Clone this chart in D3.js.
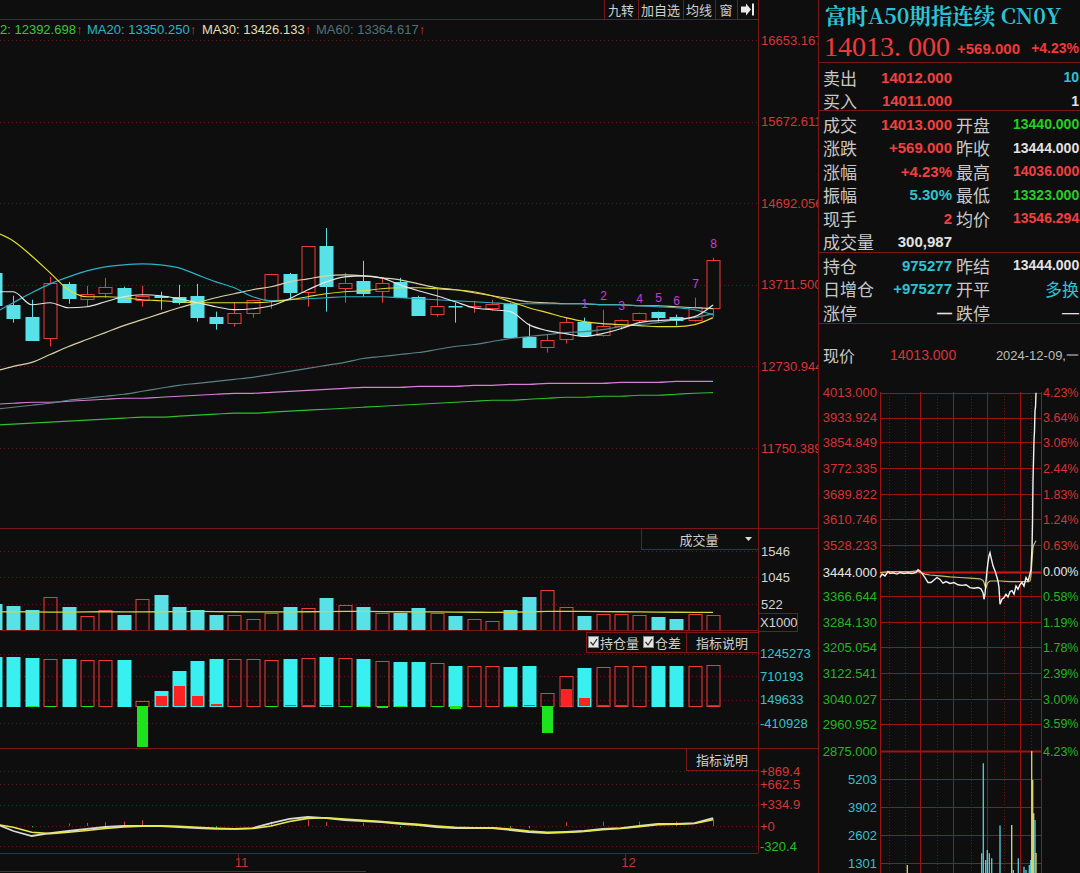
<!DOCTYPE html>
<html><head><meta charset="utf-8">
<script src="https://cdn.jsdelivr.net/npm/d3@7/dist/d3.min.js"></script>
<style>
html,body{margin:0;padding:0;background:#0e0e0e;overflow:hidden;}
svg{display:block;}
</style></head><body>
<svg id="chart" width="1080" height="873"></svg>
<script>
// ================= DATA =================
const dates=["10-15","10-16","10-17","10-18","10-21","10-22","10-23","10-24","10-25","10-28",
"10-29","10-30","10-31","11-01","11-04","11-05","11-06","11-07","11-08","11-11",
"11-12","11-13","11-14","11-15","11-18","11-19","11-20","11-21","11-22","11-25",
"11-26","11-27","11-28","11-29","12-02","12-03","12-04","12-05","12-06","12-09"];
const openP=[13855,13472,13329,13078,13723,13544,13616,13676,13532,13580,13568,13580,13329,13257,13377,13532,13843,13628,14178,13676,13759,13640,13747,13568,13365,13454,13448,13436,13484,13090,12970,13066,13269,13113,13221,13293,13389,13329,13293,13440];
const highP=[13900,13580,13532,13807,13747,13700,13795,13688,13700,13628,13711,13723,13389,13496,13532,13843,13855,14178,14393,13855,13999,13783,13795,13580,13676,13496,13520,13532,13496,13245,13113,13317,13317,13412,13293,13377,13389,13353,13556,14036];
const lowP=[13460,13257,13054,12970,13484,13448,13556,13496,13448,13412,13472,13269,13173,13209,13317,13424,13532,13448,13389,13496,13568,13496,13556,13353,13329,13257,13377,13400,13078,12970,12898,13006,13090,13090,13173,13257,13269,13221,13269,13323];
const closeP=[13472,13317,13054,13735,13556,13604,13688,13508,13580,13568,13508,13329,13257,13377,13532,13843,13628,14178,13700,13735,13616,13735,13568,13353,13460,13448,13454,13484,13090,12970,13054,13269,13113,13221,13293,13377,13329,13293,13444,14013];
const ma5=[13628,13628,13472,13496,13436,13448,13508,13568,13592,13580,13544,13496,13448,13412,13424,13460,13544,13652,13747,13807,13819,13795,13711,13640,13580,13508,13436,13412,13389,13233,13161,13125,13090,13125,13185,13257,13281,13293,13329,13470];
const ma10=[14345,14238,14058,13855,13652,13568,13568,13556,13532,13520,13508,13496,13496,13496,13496,13508,13532,13568,13604,13628,13640,13664,13676,13676,13664,13652,13628,13580,13508,13436,13377,13317,13269,13245,13233,13221,13209,13209,13233,13317];
const ma20=[13377,13496,13616,13723,13807,13879,13927,13951,13963,13951,13915,13831,13747,13676,13568,13520,13532,13544,13556,13568,13568,13568,13556,13544,13532,13520,13508,13496,13484,13484,13484,13484,13484,13472,13472,13460,13448,13436,13412,13350];
const ma30=[12671,12731,12779,12874,12970,13054,13137,13221,13293,13365,13436,13496,13556,13604,13652,13688,13747,13783,13819,13831,13819,13795,13771,13723,13676,13652,13616,13580,13544,13508,13496,13484,13484,13472,13472,13460,13460,13448,13436,13426];
const ma60=[12216,12240,12264,12288,12324,12348,12372,12396,12432,12468,12504,12527,12551,12575,12599,12635,12671,12707,12743,12779,12826,12850,12874,12898,12934,12970,12994,13030,13066,13090,13113,13137,13149,13173,13209,13233,13257,13293,13317,13365];
const ma120=[12276,12288,12300,12300,12312,12324,12336,12348,12348,12360,12372,12384,12396,12408,12408,12420,12432,12444,12456,12468,12480,12480,12480,12492,12492,12492,12504,12504,12515,12515,12527,12527,12527,12527,12539,12539,12539,12551,12551,12551];
const ma250=[12025,12037,12049,12061,12073,12085,12097,12109,12121,12121,12133,12145,12157,12169,12169,12181,12193,12205,12216,12228,12240,12252,12264,12276,12288,12300,12312,12324,12324,12336,12348,12360,12360,12372,12372,12384,12384,12396,12408,12416];
const tdCount=[0,0,0,0,0,0,0,0,0,0,0,0,0,0,0,0,0,0,0,0,0,0,0,0,0,0,0,0,0,0,0,0,1,2,3,4,5,6,7,8];
const maLegend=[{name:"2",value:"12392.698"},{name:"MA20",value:"13350.250"},{name:"MA30",value:"13426.133"},{name:"MA60",value:"13364.617"}];

const volume=[522,483,406,657,464,290,406,309,619,696,464,406,309,309,232,348,464,445,638,503,464,348,348,445,348,290,232,193,406,657,793,464,290,329,329,309,271,232,329,301];
const volMA=[370,372,368,365,365,368,372,370,368,372,375,378,375,372,368,368,370,372,375,380,378,375,372,370,368,365,362,360,362,370,378,380,378,375,372,368,365,362,360,358];
const openInt=[1168797,1168797,1144944,1121091,1121091,1097238,1097238,1097238,119265,357795,834855,1073385,1121091,1121091,1121091,1097238,1121091,1144944,1168797,1144944,1121091,1073385,1049532,1049532,1025679,954120,954120,954120,930267,954120,310089,715590,906414,930267,954120,954120,954120,954120,954120,975277];
const oiDiff=[0,0,-23853,-23853,0,-23853,0,0,-977973,238530,477060,238530,47706,0,0,-23853,23853,23853,23853,-23853,-23853,-47706,-23853,0,-23853,-71559,0,0,-23853,23853,-644031,405501,190824,23853,23853,0,0,0,0,21157];
const oscWhite=[40,-79,-158,-111,-79,-47,-16,0,0,0,-16,-32,-47,-47,-32,47,111,142,126,95,79,63,32,16,-16,-32,-32,-32,-63,-95,-111,-95,-79,-47,-32,0,32,32,47,126];
const oscYellow=[30,-20,-100,-120,-100,-70,-40,-15,-5,0,-5,-20,-35,-45,-40,0,70,120,130,110,90,70,45,25,0,-20,-30,-30,-50,-80,-100,-100,-85,-60,-40,-10,20,30,40,100];
const oscHist=[0,0,-20,0,40,50,60,70,90,0,0,0,-30,0,0,70,0,100,60,0,50,0,-25,0,0,0,0,0,-30,-35,0,60,0,70,0,70,0,70,0,120];

const priceTicks=[16653.167,15672.611,14692.056,13711.500,12730.944,11750.389];
const priceTickLabels=["16653.167","15672.611","14692.056","13711.500","12730.944","11750.389"];
const volTicks=[1546,1045,522];
const oiTicks=[1245273,710193,149633,-410928];
const oscTicks=[869.4,662.5,334.9,0,-320.4];
const oscTickLabels=["+869.4","+662.5","+334.9","+0","-320.4"];
const monthTicks=[{date:"11-01",label:"11"},{date:"12-02",label:"12"}];
const headerButtons=["九转","加自选","均线","窗"];

// right quote panel
const quoteTitle="富时A50期指连续 CN0Y";
const lastPrice="14013. 000", lastChange="+569.000", lastPct="+4.23%";
const quoteLeft=[
 {label:"卖出",value:"14012.000",kind:"up"},
 {label:"买入",value:"14011.000",kind:"up"},
 {label:"成交",value:"14013.000",kind:"up"},
 {label:"涨跌",value:"+569.000",kind:"up"},
 {label:"涨幅",value:"+4.23%",kind:"up"},
 {label:"振幅",value:"5.30%",kind:"info"},
 {label:"现手",value:"2",kind:"up"},
 {label:"成交量",value:"300,987",kind:"plain"},
 {label:"持仓",value:"975277",kind:"info"},
 {label:"日增仓",value:"+975277",kind:"info"},
 {label:"涨停",value:"—",kind:"plain"}];
const quoteRight=[
 {label:"",value:"10",kind:"info"},
 {label:"",value:"1",kind:"plain"},
 {label:"开盘",value:"13440.000",kind:"down"},
 {label:"昨收",value:"13444.000",kind:"plain"},
 {label:"最高",value:"14036.000",kind:"up"},
 {label:"最低",value:"13323.000",kind:"down"},
 {label:"均价",value:"13546.294",kind:"up"},
 {label:"",value:"",kind:"plain"},
 {label:"昨结",value:"13444.000",kind:"plain"},
 {label:"开平",value:"多换",kind:"info"},
 {label:"跌停",value:"—",kind:"plain"}];
const nowRow={label:"现价",value:"14013.000",date:"2024-12-09,一"};

// intraday
const prevClose=13444;
const intraTicks=[14013.000,13933.924,13854.849,13772.335,13689.822,13610.746,13528.233,13444.000,13366.644,13284.130,13205.054,13122.541,13040.027,12960.952,12875.000];
const intraTickLabels=["4013.000","3933.924","3854.849","3772.335","3689.822","3610.746","3528.233","3444.000","3366.644","3284.130","3205.054","3122.541","3040.027","2960.952","2875.000"];
const intraPctLabels=["4.23%","3.64%","3.06%","2.44%","1.83%","1.24%","0.63%","0.00%","0.58%","1.19%","1.78%","2.39%","3.00%","3.59%","4.23%"];
const intraTime=[0,2,5,8,10,13,17,20,24,28,32,36,38,40,42,45,48,51,54,57,60,63,66,70,74,78,82,86,90,94,98,101,103,104,105,106,107,108,109,110,111,113,115,117,118,119,120,122,124,126,128,130,132,134,136,138,140,142,144,146,148,150,151,152,152.5,153,153.5,154,154.5,155,155.5,156];
const intraPrice=[13426,13437,13431,13445,13439,13441,13437,13442,13439,13441,13439,13442,13451,13447,13439,13426,13410,13410,13418,13426,13420,13408,13413,13407,13410,13403,13401,13403,13394,13392,13394,13390,13378,13357,13373,13415,13447,13474,13495,13505,13490,13463,13447,13426,13415,13394,13341,13357,13362,13373,13364,13381,13384,13373,13399,13389,13403,13410,13399,13426,13415,13437,13452,13521,13596,13733,13797,13861,13892,13956,13967,14013];
const avgTime=[0,10,20,30,38,40,45,50,60,70,80,90,100,103,104,105,106,107,108,110,115,120,130,140,148,150,151,152,153,154,155,156];
const avgPrice=[13442,13445,13445,13445,13447,13442,13437,13434,13431,13428,13426,13424,13422,13417,13410,13399,13394,13403,13410,13415,13415,13415,13413,13413,13413,13415,13431,13479,13521,13532,13537,13543];
const intraVolTicks=[5203,3902,2602,1301];
const intraVolTime=[27.3,101.7,103.3,105.7,107.3,109.3,111.7,120,131.7,133.3,138.3,144,146,149.3,150.7,151.7,152.7,153.7,155,156];
const intraVol=[1209,1753,5937,1441,1907,1753,1519,3038,3069,977,1519,1132,977,1209,1441,6504,5162,3612,3302,1767];
const intraVolDir=["u","d","d","d","d","d","d","d","u","d","d","d","d","d","d","u","u","u","d","u"];
const intraGridSolid=[40,73,107,140];
const intraGridDotted=[9,25,57,91,124,151];

// ================= RENDER =================
const BG="#0e0e0e", RED="#ec3b3b", CYAN="#58e2e8", CYAN2="#38f0f0", GREEN="#1ee21e",
      LINE="#7a1717", GRID="#5e1c1c", TXT="#cfcfcf", AXRED="#d63636";
const NUM="Liberation Sans, Arial, sans-serif", CJK="Noto Sans CJK SC, sans-serif";
const svg=d3.select("#chart");
svg.append("rect").attr("width",1080).attr("height",873).attr("fill",BG);
const defs=svg.append("defs");
function clip(id,x0,y0,w,h){defs.append("clipPath").attr("id",id).append("rect").attr("x",x0).attr("y",y0).attr("width",w).attr("height",h);}
clip("cMain",0,20,758,510);clip("cVol",0,530,758,101);clip("cOI",0,631,758,117);clip("cOsc",0,748,758,105);
clip("cAxis",758,0,60,873);

const n=dates.length;
const x=d3.scaleLinear().domain([0,n-1]).range([-5.1,713]);
const cx=i=>Math.round(x(i))+0.5;
const yP=d3.scaleLinear().domain([priceTicks[5],priceTicks[0]]).range([448,40]);
const yV=d3.scaleLinear().domain([0,volTicks[0]]).range([631,551]);
const yOI=d3.scaleLinear().domain([0,oiTicks[0]]).range([706,653.8]);
const yO=d3.scaleLinear().domain([0,oscTicks[0]]).range([826,771]);
const bars=dates.map((d,i)=>({i,d,o:openP[i],h:highP[i],l:lowP[i],c:closeP[i],up:closeP[i]>=openP[i]}));
const plainFmt=d=>String(d);

function hgrid(g,ticks,scale,x1,x2,color,dash){
  g.append("g").selectAll("line").data(ticks).join("line")
   .attr("x1",x1).attr("x2",x2).attr("y1",d=>Math.round(scale(d))+.5).attr("y2",d=>Math.round(scale(d))+.5)
   .attr("stroke",color).attr("stroke-dasharray",dash||null);
}
function styleAxis(g,colorFn,size,font){
  g.select(".domain").remove();
  g.selectAll("text").attr("fill",colorFn).attr("font-size",size).attr("font-family",font||NUM);
}

// ---- main price panel ----
const gMain=svg.append("g").attr("clip-path","url(#cMain)");
hgrid(gMain,priceTicks,yP,0,758,GRID,"1,3");
const gC=gMain.append("g");
gC.selectAll("line").data(bars).join("line")
 .attr("x1",b=>cx(b.i)).attr("x2",b=>cx(b.i)).attr("y1",b=>yP(b.h)).attr("y2",b=>yP(b.l))
 .attr("stroke",b=>b.up?RED:CYAN);
gC.selectAll("rect").data(bars).join("rect")
 .attr("x",b=>cx(b.i)-6.5).attr("width",13)
 .attr("y",b=>Math.round(Math.min(yP(b.o),yP(b.c)))+.5)
 .attr("height",b=>Math.max(0.5,Math.round(Math.abs(yP(b.o)-yP(b.c)))))
 .attr("fill",b=>b.up?BG:CYAN).attr("stroke",b=>b.up?RED:CYAN);
const maSeries=[[ma250,"#2fc02f"],[ma120,"#d77ed7"],[ma60,"#5d8086"],[ma30,"#d9d2a6"],[ma20,"#27b3c6"],[ma10,"#e4dc2c"],[ma5,"#e6e6e6"]];
const line=d3.line().x((d,i)=>x(i)).y(d=>yP(d)).curve(d3.curveMonotoneX);
maSeries.forEach(([s,c])=>gMain.append("path").attr("d",line(s)).attr("fill","none").attr("stroke",c).attr("stroke-width",1.2));
gMain.append("g").selectAll("text").data(bars.filter(b=>tdCount[b.i]>0)).join("text")
 .attr("x",b=>cx(b.i)).attr("y",b=>yP(b.h)-14).attr("text-anchor","middle").attr("dominant-baseline","central")
 .attr("fill","#c43fd6").attr("font-size",12).attr("font-family",NUM).text(b=>tdCount[b.i]);

// MA legend
const legColors=["#3cc83c","#29b5c9","#e6dfb4","#4f7076"];
const legX=[0,87,202,316];
maLegend.forEach((m,k)=>{
  const t=svg.append("text").attr("x",legX[k]).attr("y",29).attr("dominant-baseline","central")
    .attr("font-size",13).attr("font-family",NUM);
  t.append("tspan").attr("fill",legColors[k]).text(m.name+": "+m.value);
  t.append("tspan").attr("fill","#d03a2a").text("↑");
});

// header buttons
const btnEdges=[604,638,683,715,737,758];
headerButtons.forEach((b,k)=>{
  svg.append("text").attr("x",(btnEdges[k]+btnEdges[k+1])/2).attr("y",9.5).attr("text-anchor","middle")
   .attr("dominant-baseline","central").attr("fill",TXT).attr("font-size",13).attr("font-family",CJK).text(b);
});
svg.append("g").selectAll("line").data(btnEdges).join("line").attr("x1",d=>d+.5).attr("x2",d=>d+.5).attr("y1",0).attr("y2",19).attr("stroke",LINE);
svg.append("path").attr("d","M741,6.5 h5 v-3 l5,6 l-5,6 v-3 h-5 z").attr("fill","#e8e8e8");
svg.append("rect").attr("x",752).attr("y",3.5).attr("width",2).attr("height",12).attr("fill","#e8e8e8");

// ---- volume panel ----
const gVol=svg.append("g").attr("clip-path","url(#cVol)");
hgrid(gVol,volTicks,yV,0,758,GRID,"1,3");
gVol.selectAll("rect").data(bars).join("rect")
 .attr("x",b=>cx(b.i)-6.5).attr("width",13)
 .attr("y",b=>Math.round(yV(volume[b.i]))+.5).attr("height",b=>yV(0)-Math.round(yV(volume[b.i]))-1)
 .attr("fill",b=>b.up?"none":CYAN).attr("stroke",b=>b.up?RED:CYAN);
gVol.append("path").attr("d",d3.line().x((d,i)=>x(i)).y(d=>yV(d))(volMA)).attr("fill","none").attr("stroke","#d6d23c").attr("stroke-width",1.3);

// ---- open interest panel ----
const gOI=svg.append("g").attr("clip-path","url(#cOI)");
hgrid(gOI,oiTicks,yOI,0,758,GRID,"1,3");
gOI.selectAll("rect.oi").data(bars).join("rect").attr("class","oi")
 .attr("x",b=>cx(b.i)-6.5).attr("width",13)
 .attr("y",b=>Math.round(yOI(openInt[b.i]))+.5).attr("height",b=>Math.round(yOI(0))-Math.round(yOI(openInt[b.i])))
 .attr("fill",b=>b.up?"none":CYAN2).attr("stroke",b=>b.up?RED:CYAN2);
gOI.selectAll("rect.df").data(bars.filter(b=>oiDiff[b.i]!==0)).join("rect").attr("class","df")
 .attr("x",b=>cx(b.i)-5.5).attr("width",11)
 .attr("y",b=>Math.min(yOI(0),yOI(oiDiff[b.i]))).attr("height",b=>Math.max(1,Math.abs(yOI(oiDiff[b.i])-yOI(0))))
 .attr("fill",b=>oiDiff[b.i]>0?"#ff2222":GREEN);

// ---- oscillator panel ----
const gOsc=svg.append("g").attr("clip-path","url(#cOsc)");
hgrid(gOsc,oscTicks,yO,0,758,GRID,"1,3");
gOsc.selectAll("line.h").data(bars.filter(b=>oscHist[b.i]!==0)).join("line").attr("class","h")
 .attr("x1",b=>cx(b.i)).attr("x2",b=>cx(b.i)).attr("y1",yO(0)).attr("y2",b=>yO(oscHist[b.i]))
 .attr("stroke",b=>oscHist[b.i]>0?"#d83a3a":"#1ec81e");
const oLine=d3.line().x((d,i)=>x(i)).y(d=>yO(d));
gOsc.append("path").attr("d",oLine(oscWhite)).attr("fill","none").attr("stroke","#d8d8d8").attr("stroke-width",1.8);
gOsc.append("path").attr("d",oLine(oscYellow)).attr("fill","none").attr("stroke","#e8e84c").attr("stroke-width",1.6);

// month axis
const mt=monthTicks.map(m=>({...m,i:dates.indexOf(m.date)}));
svg.append("g").selectAll("line").data(mt).join("line").attr("x1",m=>cx(m.i)+4).attr("x2",m=>cx(m.i)+4).attr("y1",853).attr("y2",858).attr("stroke",LINE);
svg.append("g").selectAll("text").data(mt).join("text").attr("x",m=>cx(m.i)+7).attr("y",862).attr("text-anchor","middle")
 .attr("dominant-baseline","central").attr("fill","#c83232").attr("font-size",13).attr("font-family",NUM).text(m=>m.label);
svg.append("line").attr("x1",0).attr("x2",366).attr("y1",871.5).attr("y2",871.5).attr("stroke","#3a3a3a");

// ---- axes on the right of main chart ----
const gAx=svg.append("g").attr("clip-path","url(#cAxis)");
const a1=gAx.append("g").attr("transform","translate(758,0)")
 .call(d3.axisRight(yP).tickValues(priceTicks).tickSize(0).tickPadding(3).tickFormat((d,i)=>priceTickLabels[i]));
styleAxis(a1,AXRED,13);
const a2=gAx.append("g").attr("transform","translate(758,0)")
 .call(d3.axisRight(yV).tickValues(volTicks).tickSize(0).tickPadding(3).tickFormat(plainFmt));
styleAxis(a2,"#d4d4d4",13);
const a3=gAx.append("g").attr("transform","translate(758,0)")
 .call(d3.axisRight(yOI).tickValues(oiTicks).tickSize(0).tickPadding(2).tickFormat(plainFmt));
styleAxis(a3,"#36c4cc",13);
const a4=gAx.append("g").attr("transform","translate(758,0)")
 .call(d3.axisRight(yO).tickValues(oscTicks).tickSize(0).tickPadding(2).tickFormat((d,i)=>oscTickLabels[i]));
styleAxis(a4,d=>d<0?"#22c022":AXRED,13);

// panel boxes / labels
function box(x0,y0,x1,y1){svg.append("rect").attr("x",x0+.5).attr("y",y0+.5).attr("width",x1-x0).attr("height",y1-y0).attr("fill",BG).attr("stroke",LINE);}
box(641,528,758,549);
svg.append("text").attr("x",699).attr("y",539).attr("text-anchor","middle").attr("dominant-baseline","central").attr("fill",TXT).attr("font-size",13).attr("font-family",CJK).text("成交量");
svg.append("path").attr("d","M745,537 h7 l-3.5,4 z").attr("fill","#dddddd");
box(758,613,797,631);
svg.append("text").attr("x",760).attr("y",622.5).attr("dominant-baseline","central").attr("fill","#d4d4d4").attr("font-size",13).attr("font-family",NUM).text("X1000");
box(586,632,686,652); box(686,632,758,652);
[["持仓量",588],["仓差",643]].forEach(([t,xx])=>{
  svg.append("rect").attr("x",xx+.5).attr("y",636.5).attr("width",10).attr("height",11).attr("fill","#e8e8e8").attr("stroke","#888");
  svg.append("path").attr("d",`M${xx+2.5},642 l2.5,3 l4,-6`).attr("fill","none").attr("stroke","#333").attr("stroke-width",1.3);
  svg.append("text").attr("x",xx+12).attr("y",642.5).attr("dominant-baseline","central").attr("fill",TXT).attr("font-size",13).attr("font-family",CJK).text(t);
});
svg.append("text").attr("x",722).attr("y",642.5).attr("text-anchor","middle").attr("dominant-baseline","central").attr("fill",TXT).attr("font-size",13).attr("font-family",CJK).text("指标说明");
box(686,748,758,770);
svg.append("text").attr("x",722).attr("y",759).attr("text-anchor","middle").attr("dominant-baseline","central").attr("fill",TXT).attr("font-size",13).attr("font-family",CJK).text("指标说明");

// separators
[[0,758,19.5],[0,818,528.5],[0,758,630.5],[0,818,748.5],[0,758,853.5]].forEach(([a,b,y])=>
  svg.append("line").attr("x1",a).attr("x2",b).attr("y1",y).attr("y2",y).attr("stroke",LINE));
svg.append("line").attr("x1",758.5).attr("x2",758.5).attr("y1",0).attr("y2",853).attr("stroke",LINE);
svg.append("line").attr("x1",818.5).attr("x2",818.5).attr("y1",0).attr("y2",873).attr("stroke",LINE);

// ---- right quote panel ----
const gR=svg.append("g");
const kindColor={up:"#f04040",down:"#22d022",plain:"#e2e2e2",info:"#2ec2d4"};
gR.append("text").attr("x",825).attr("y",14).attr("dominant-baseline","central").attr("fill","#2cc3d6")
 .attr("font-size",21.5).attr("font-weight",700).attr("font-family","Noto Serif CJK SC, Noto Sans CJK SC, serif").text(quoteTitle);
gR.append("text").attr("x",824).attr("y",46).attr("dominant-baseline","central").attr("fill","#ee3a3a")
 .attr("font-size",28).attr("font-family","Liberation Serif, serif").text(lastPrice);
gR.append("text").attr("x",957).attr("y",48).attr("dominant-baseline","central").attr("fill","#ee3a3a").attr("font-size",15).attr("font-weight",700).attr("font-family",NUM).text(lastChange);
gR.append("text").attr("x",1079).attr("y",48).attr("text-anchor","end").attr("dominant-baseline","central").attr("fill","#ee3a3a").attr("font-size",14).attr("font-weight",700).attr("font-family",NUM).text(lastPct);
[62,110,252,323].forEach(y=>gR.append("line").attr("x1",819).attr("x2",1080).attr("y1",y+.5).attr("y2",y+.5).attr("stroke",LINE));
const rowY=k=>77+23.5*k;
quoteLeft.forEach((r,k)=>{
  gR.append("text").attr("x",823).attr("y",rowY(k)).attr("dominant-baseline","central").attr("fill","#c8c8c8").attr("font-size",17).attr("font-family",CJK).text(r.label);
  gR.append("text").attr("x",952).attr("y",rowY(k)).attr("text-anchor","end").attr("dominant-baseline","central").attr("fill",kindColor[r.kind]).attr("font-size",15).attr("font-weight",700).attr("font-family",NUM).text(r.value);
});
quoteRight.forEach((r,k)=>{
  if(r.label){
    gR.append("text").attr("x",956).attr("y",rowY(k)).attr("dominant-baseline","central").attr("fill","#c8c8c8").attr("font-size",17).attr("font-family",CJK).text(r.label);
    const short=r.value.length<4;
    gR.append("text").attr("x",short?1079:1013).attr("y",rowY(k)).attr("text-anchor",short?"end":"start").attr("dominant-baseline","central").attr("fill",kindColor[r.kind])
     .attr("font-size",short?17:14).attr("font-weight",short?400:700).attr("font-family",short&&r.value!=="—"?CJK:NUM).text(r.value);
  } else if(r.value){
    gR.append("text").attr("x",1079).attr("y",rowY(k)).attr("text-anchor","end").attr("dominant-baseline","central").attr("fill",kindColor[r.kind]).attr("font-size",14).attr("font-weight",700).attr("font-family",NUM).text(r.value);
  }
});
gR.append("text").attr("x",823).attr("y",355).attr("dominant-baseline","central").attr("fill","#c8c8c8").attr("font-size",16).attr("font-family",CJK).text(nowRow.label);
gR.append("text").attr("x",890).attr("y",355).attr("dominant-baseline","central").attr("fill","#d83434").attr("font-size",14).attr("font-family",NUM).text(nowRow.value);
gR.append("text").attr("x",1079).attr("y",355).attr("text-anchor","end").attr("dominant-baseline","central").attr("fill","#bdbdbd").attr("font-size",13).attr("font-family",NUM).text(nowRow.date);

// ---- intraday chart ----
const xT=d3.scaleLinear().domain([0,161]).range([880,1041]);
const yI=d3.scaleLinear().domain([intraTicks[14],intraTicks[0]]).range([751,392.7]);
const yIV=d3.scaleLinear().domain([0,6504]).range([891,751]);
const gI=gR.append("g");
const IGRID="#9e1313";
gI.append("g").selectAll("line").data(intraTicks).join("line")
 .attr("x1",880).attr("x2",1041).attr("y1",d=>Math.round(yI(d))+.5).attr("y2",d=>Math.round(yI(d))+.5)
 .attr("stroke",d=>d===prevClose?"#cc1a1a":IGRID).attr("stroke-width",(d,i)=>d===prevClose||i===14?2:1);
hgrid(gI,intraVolTicks,yIV,880,1041,IGRID);
gI.append("g").selectAll("line").data(intraGridDotted).join("line")
 .attr("x1",d=>Math.round(xT(d))+.5).attr("x2",d=>Math.round(xT(d))+.5).attr("y1",393).attr("y2",873)
 .attr("stroke","#6a1414").attr("stroke-dasharray","1,2");
gI.append("g").selectAll("line").data([0,...intraGridSolid,161]).join("line")
 .attr("x1",d=>Math.round(xT(d))+.5).attr("x2",d=>Math.round(xT(d))+.5).attr("y1",392).attr("y2",873)
 .attr("stroke",IGRID);
const ia1=gI.append("g").attr("transform","translate(877,0)")
 .call(d3.axisLeft(yI).tickValues(intraTicks).tickSize(0).tickPadding(0).tickFormat((d,i)=>intraTickLabels[i]));
styleAxis(ia1,d=>d>prevClose?"#d23434":d<prevClose?"#25b525":"#e6e6e6",13);
const ia2=gI.append("g").attr("transform","translate(1041,0)")
 .call(d3.axisRight(yI).tickValues(intraTicks).tickSize(0).tickPadding(2).tickFormat((d,i)=>intraPctLabels[i]));
styleAxis(ia2,d=>d>prevClose?"#d23434":d<prevClose?"#25b525":"#e6e6e6",12.5);
const ia3=gI.append("g").attr("transform","translate(877,0)")
 .call(d3.axisLeft(yIV).tickValues(intraVolTicks).tickSize(0).tickPadding(0).tickFormat(plainFmt));
styleAxis(ia3,"#36c0cc",13);
gI.append("g").selectAll("line").data(intraVolTime.map((t,k)=>({t,v:intraVol[k],d:intraVolDir[k]}))).join("line")
 .attr("x1",d=>xT(d.t)).attr("x2",d=>xT(d.t)).attr("y1",873).attr("y2",d=>yIV(d.v))
 .attr("stroke",d=>d.d==="u"?"#e2d66a":"#56d2da").attr("stroke-width",1.3);
const il=d3.line().x(d=>xT(d[0])).y(d=>yI(d[1]));
gI.append("path").attr("d",il(avgTime.map((t,k)=>[t,avgPrice[k]]))).attr("fill","none").attr("stroke","#cdb96a").attr("stroke-width",1.2);
gI.append("path").attr("d",il(intraTime.map((t,k)=>[t,intraPrice[k]]))).attr("fill","none").attr("stroke","#f2f2f2").attr("stroke-width",1.4);
</script></body></html>
